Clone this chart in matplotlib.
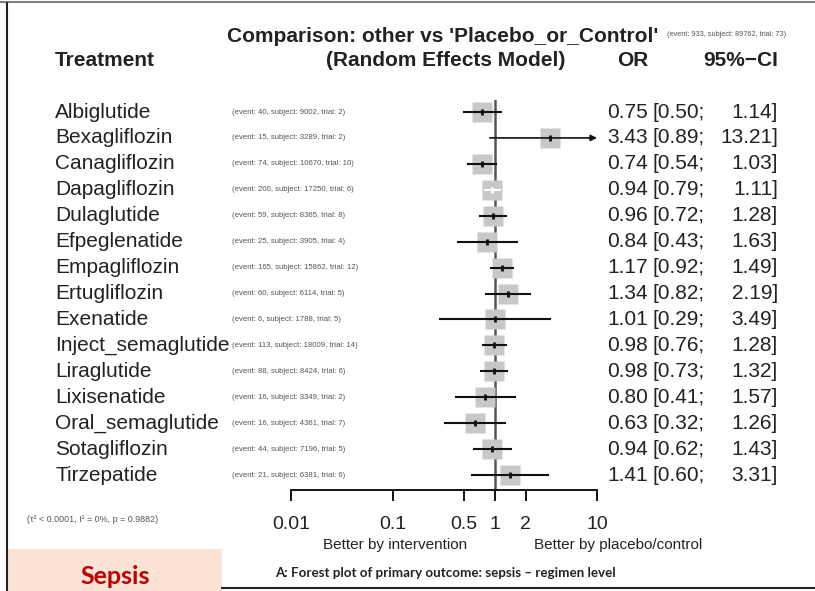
import matplotlib.pyplot as plt
import numpy as np

# data
treatments = ["Albiglutide", "Bexagliflozin", "Canagliflozin", "Dapagliflozin",
              "Dulaglutide", "Efpeglenatide", "Empagliflozin", "Ertugliflozin",
              "Exenatide", "Inject_semaglutide", "Liraglutide", "Lixisenatide",
              "Oral_semaglutide", "Sotagliflozin", "Tirzepatide"]
odds_ratio = [0.75, 3.43, 0.74, 0.94, 0.96, 0.84, 1.17, 1.34, 1.01, 0.98, 0.98, 0.80, 0.63, 0.94, 1.41]
ci_lower = [0.50, 0.89, 0.54, 0.79, 0.72, 0.43, 0.92, 0.82, 0.29, 0.76, 0.73, 0.41, 0.32, 0.62, 0.60]
ci_upper = [1.14, 13.21, 1.03, 1.11, 1.28, 1.63, 1.49, 2.19, 3.49, 1.28, 1.32, 1.57, 1.26, 1.43, 3.31]
events = [40, 15, 74, 200, 59, 25, 165, 60, 6, 113, 88, 16, 16, 44, 21]
subjects = [9002, 3289, 10670, 17250, 8365, 3905, 15862, 6114, 1788, 18009, 8424, 3349, 4361, 7196, 6381]
trials = [2, 2, 10, 6, 8, 4, 12, 5, 5, 14, 6, 2, 7, 5, 6]
tick_vals = [0.01, 0.1, 0.5, 1, 2, 10]
tick_labels = ["0.01", "0.1", "0.5", "1", "2", "10"]

W, H = 815, 591
fig = plt.figure(figsize=(W / 100, H / 100), dpi=100)

# overlay axes in pixel coords for all the text
bg = fig.add_axes([0, 0, 1, 1])
bg.set_xlim(0, W)
bg.set_ylim(H, 0)
bg.axis("off")

# frame bits of the slide
bg.plot([0, W], [2, 2], color="#808080", lw=1.5)
bg.plot([7, 7], [3, H], color="#222222", lw=1.5)
bg.plot([222, W], [588, 588], color="#222222", lw=1.5)
bg.add_patch(plt.Rectangle((8, 549), 214, 42, color="#fbe3d6", lw=0))
bg.text(115, 576, "Sepsis", fontsize=18, fontweight="bold", color="#c00000",
        family="Lato", ha="center", va="center")
bg.text(275, 573, "A: Forest plot of primary outcome: sepsis \u2013 regimen level",
        fontsize=9.6, fontweight="bold", color="#222222", family="Lato", va="center")

sans = "Liberation Sans"
fs = 15
bg.text(443, 36, "Comparison: other vs 'Placebo_or_Control'", fontsize=fs,
        fontweight="bold", family=sans, ha="center", va="center", color="#222222")
bg.text(667, 35, "(event: 933, subject: 89762, trial: 73)", fontsize=5.3,
        family=sans, va="center", color="#555555")
bg.text(55, 60, "Treatment", fontsize=fs, fontweight="bold", family=sans,
        va="center", color="#222222")
bg.text(565, 60, "(Random Effects Model)", fontsize=fs, fontweight="bold",
        family=sans, ha="right", va="center", color="#222222")
bg.text(648, 60, "OR", fontsize=fs, fontweight="bold", family=sans,
        ha="right", va="center", color="#222222")
bg.text(778, 60, "95%\u2212CI", fontsize=fs, fontweight="bold", family=sans,
        ha="right", va="center", color="#222222")

row_px = 25.93
y0 = 112
for i, name in enumerate(treatments):
    y = y0 + i * row_px
    bg.text(55, y, name, fontsize=fs, family=sans, va="center", color="#222222")
    bg.text(232, y, f"(event: {events[i]}, subject: {subjects[i]}, trial: {trials[i]})",
            fontsize=5.6, family=sans, va="center", color="#555555")
    bg.text(648, y, f"{odds_ratio[i]:.2f}", fontsize=fs, family=sans,
            ha="right", va="center", color="#222222")
    bg.text(652, y, f"[{ci_lower[i]:.2f};", fontsize=fs, family=sans,
            va="center", color="#222222")
    bg.text(778, y, f"{ci_upper[i]:.2f}]", fontsize=fs, family=sans,
            ha="right", va="center", color="#222222")

bg.text(27, 519, "(\u03c4\u00b2 < 0.0001, I\u00b2 = 0%, p = 0.9882)", fontsize=6.4,
        family=sans, va="center", color="#555555")
bg.text(395, 545, "Better by intervention", fontsize=11, family=sans,
        ha="center", va="center", color="#222222")
bg.text(618, 545, "Better by placebo/control", fontsize=11, family=sans,
        ha="center", va="center", color="#222222")

# forest axes
ax_l, ax_r, ax_t, ax_b = 291, 597, 100, 490
ax = fig.add_axes([ax_l / W, 1 - ax_b / H, (ax_r - ax_l) / W, (ax_b - ax_t) / H])
ax.patch.set_alpha(0)
ax.set_xscale("log")
ax.set_xlim(0.01, 10)
ax.set_ylim((ax_b - y0) / row_px, (ax_t - y0) / row_px)
for s in ["top", "right", "left"]:
    ax.spines[s].set_visible(False)
ax.spines["bottom"].set_linewidth(1.3)
ax.set_yticks([])
ax.set_xticks(tick_vals)
ax.set_xticklabels(tick_labels, fontsize=14, family=sans, color="#222222")
ax.xaxis.set_minor_locator(plt.NullLocator())
ax.tick_params(axis="x", length=8, width=1.3, pad=11)

ax.axvline(1, color="#555555", lw=1.8, zorder=1)

rows = np.arange(len(treatments))
ax.plot(odds_ratio, rows, "s", color="#c8c8c8", markersize=14.5, mec="none", zorder=2)
for i in rows:
    lo, hi, orv = ci_lower[i], ci_upper[i], odds_ratio[i]
    # CI hidden inside the square gets drawn white, like R meta does
    lo_x = np.log10(lo)
    hi_x = np.log10(hi)
    inside = (np.log10(orv) - lo_x) * 102 < 9 and (hi_x - np.log10(orv)) * 102 < 9
    col = "white" if inside else "#111111"
    if hi > 10:
        ax.annotate("", xy=(10, i), xytext=(lo, i), annotation_clip=False,
                    arrowprops=dict(arrowstyle="-|>", color=col, lw=1.2,
                                    mutation_scale=9, shrinkA=0, shrinkB=0), zorder=3)
    else:
        ax.plot([lo, hi], [i, i], color=col, lw=1.5, zorder=3)
    ax.plot([orv], [i], marker="|", color=col, markersize=5, mew=2, zorder=4)

fig.savefig("out.png", dpi=100)
